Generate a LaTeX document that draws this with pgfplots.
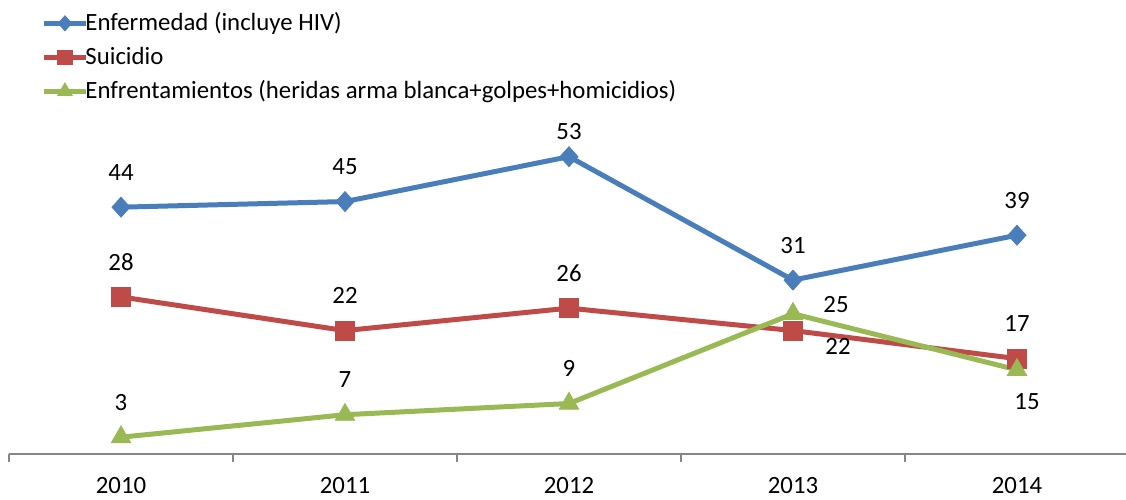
\documentclass[border=0pt]{standalone}
\usepackage{pgfplots}
\pgfplotsset{compat=1.18}
\usepackage{fontspec}
\setmainfont{Carlito}
\definecolor{cblue}{RGB}{74,126,187}
\definecolor{cred}{RGB}{190,75,72}
\definecolor{cgreen}{RGB}{152,185,84}
\definecolor{caxis}{RGB}{134,134,134}
\begin{document}
\fontsize{12.4}{14.8}\selectfont
\begin{tikzpicture}
\useasboundingbox (-4.5pt,-22.5pt) rectangle (558.5pt,227pt);
\begin{axis}[
  at={(0pt,0pt)}, anchor=south west,
  scale only axis, width=560pt, height=168.3pt,
  xmin=-0.5, xmax=4.5, ymin=0, ymax=60,
  /pgf/number format/assume math mode=true,
  axis x line=bottom, axis y line=none,
  x axis line style={-, draw=caxis, line width=0.8pt},
  xtick={0,1,2,3,4}, xticklabels={2010,2011,2012,2013,2014},
  major tick length=0pt,
  minor xtick={-0.5,0.5,1.5,2.5,3.5,4.5},
  minor tick length=4pt, tick align=outside,
  every tick/.style={caxis, line width=0.8pt},
  xticklabel style={anchor=center, yshift=-15.8pt, text=black, inner sep=0pt},
  ytick=\empty,
  clip=false,
  every node near coord/.style={anchor=center, text=black, inner sep=0pt},
  legend style={at={(0.0286,1.3105)}, anchor=north west, draw=none, fill=none,
    inner sep=0pt, row sep=5.6pt, column sep=-1.5pt, cells={anchor=west},
    nodes={text height=8.8pt, text depth=2.6pt, inner ysep=0pt, inner xsep=0pt}},
  legend image code/.code={%
    \draw[mark repeat=2, mark phase=2, #1, /tikz/every mark/.append style={scale=0.75}]
      plot coordinates {(0pt,0.7pt) (10.5pt,0.7pt) (21pt,0.7pt)};},
]
\addplot[cblue, line width=2.5pt, mark=diamond*, mark size=5pt,
  mark options={solid, xscale=1.2, line width=0.4pt}]
  coordinates {(0,44) (1,45) (2,53) (3,31) (4,39)};
\addlegendentry{Enfermedad (incluye HIV)}
\addplot[cred, line width=2.5pt, mark=square*, mark size=4.7pt,
  mark options={solid, line width=0.4pt}]
  coordinates {(0,28) (1,22) (2,26) (3,22) (4,17)};
\addlegendentry{Suicidio}
\addplot[cgreen, line width=2.5pt, mark=triangle*, mark size=5.6pt,
  mark options={solid, line width=0.4pt}]
  coordinates {(0,3) (1,7) (2,9) (3,25) (4,15)};
\addlegendentry{Enfrentamientos (heridas arma blanca+golpes+homicidios)}
% data labels
\addplot[forget plot, draw=none, mark=none, nodes near coords, point meta=y,
  every node near coord/.append style={yshift=17.5pt}]
  coordinates {(0,44) (1,45) (3,31) (4,39) (0,28) (1,22) (2,26) (4,17) (0,3) (1,7) (2,9)};
\addplot[forget plot, draw=none, mark=none, nodes near coords, point meta=y,
  every node near coord/.append style={yshift=12.5pt}]
  coordinates {(2,53)};
\addplot[forget plot, draw=none, mark=none, nodes near coords, point meta=y,
  every node near coord/.append style={xshift=22.5pt, yshift=-8pt}]
  coordinates {(3,22)};
\addplot[forget plot, draw=none, mark=none, nodes near coords, point meta=y,
  every node near coord/.append style={xshift=21.5pt, yshift=4.5pt}]
  coordinates {(3,25)};
\addplot[forget plot, draw=none, mark=none, nodes near coords, point meta=y,
  every node near coord/.append style={xshift=5pt, yshift=-16pt}]
  coordinates {(4,15)};
\end{axis}
\end{tikzpicture}
\end{document}
